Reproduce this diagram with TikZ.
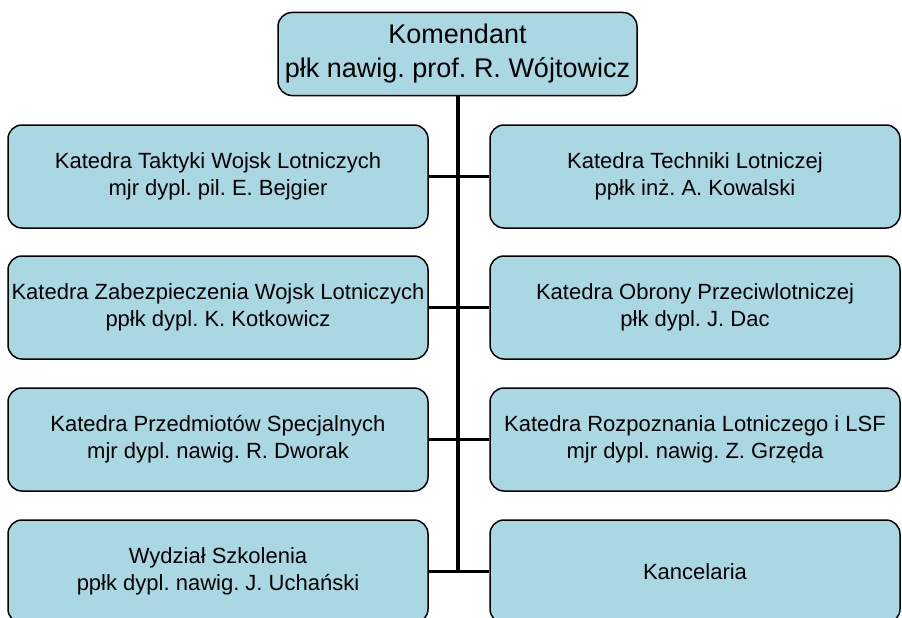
\documentclass[tikz,border=0pt]{standalone}
\usepackage{fontspec}
\setmainfont{Liberation Sans}
\usepackage{xcolor}
\usepackage{tikz}
\definecolor{unitblue}{RGB}{170,216,226}
\frenchspacing
\tikzset{
  unit/.style={draw=black, line width=1.5pt, fill=unitblue, rounded corners=14pt,
    align=center, inner sep=2pt, minimum height=103pt, font=\fontsize{22}{27}\selectfont},
  leftunit/.style={unit, minimum width=420pt},
  rightunit/.style={unit, minimum width=410pt},
  link/.style={line width=3.5pt}
}

\begin{document}
\begin{tikzpicture}[x=1pt,y=-1pt]
    \clip (0,0) rectangle (902,618);
    \fill[white] (0,0) rectangle (902,618);
    % head
    \node[unit, minimum width=359pt, minimum height=83pt, font=\fontsize{27}{34}\selectfont] (head) at (457.5,54) {Komendant\\płk nawig. prof. R. Wójtowicz};
    % left column
    \node[leftunit] (l1) at (218,176.5) {Katedra Taktyki Wojsk Lotniczych\\mjr dypl. pil. E. Bejgier};
    \node[leftunit] (l2) at (218,307.5) {Katedra Zabezpieczenia Wojsk Lotniczych\\ppłk dypl. K. Kotkowicz};
    \node[leftunit] (l3) at (218,439.5) {Katedra Przedmiotów Specjalnych\\mjr dypl. nawig. R. Dworak};
    \node[leftunit] (l4) at (218,571.5) {Wydział Szkolenia\\ppłk dypl. nawig. J. Uchański};
    % right column
    \node[rightunit] (r1) at (695,176.5) {Katedra Techniki Lotniczej\\ppłk inż. A. Kowalski};
    \node[rightunit] (r2) at (695,307.5) {Katedra Obrony Przeciwlotniczej\\płk dypl. J. Dac};
    \node[rightunit] (r3) at (695,439.5) {Katedra Rozpoznania Lotniczego i LSF\\mjr dypl. nawig. Z. Grzęda};
    \node[rightunit] (r4) at (695,571.5) {Kancelaria};
    % links
    \coordinate (foot) at (458,571.5);
    \draw[link] (head.south -| foot) -- (foot);
    \foreach \i in {1,...,4}
      \draw[link] (l\i.east) -- (r\i.west);
\end{tikzpicture}
\end{document}
